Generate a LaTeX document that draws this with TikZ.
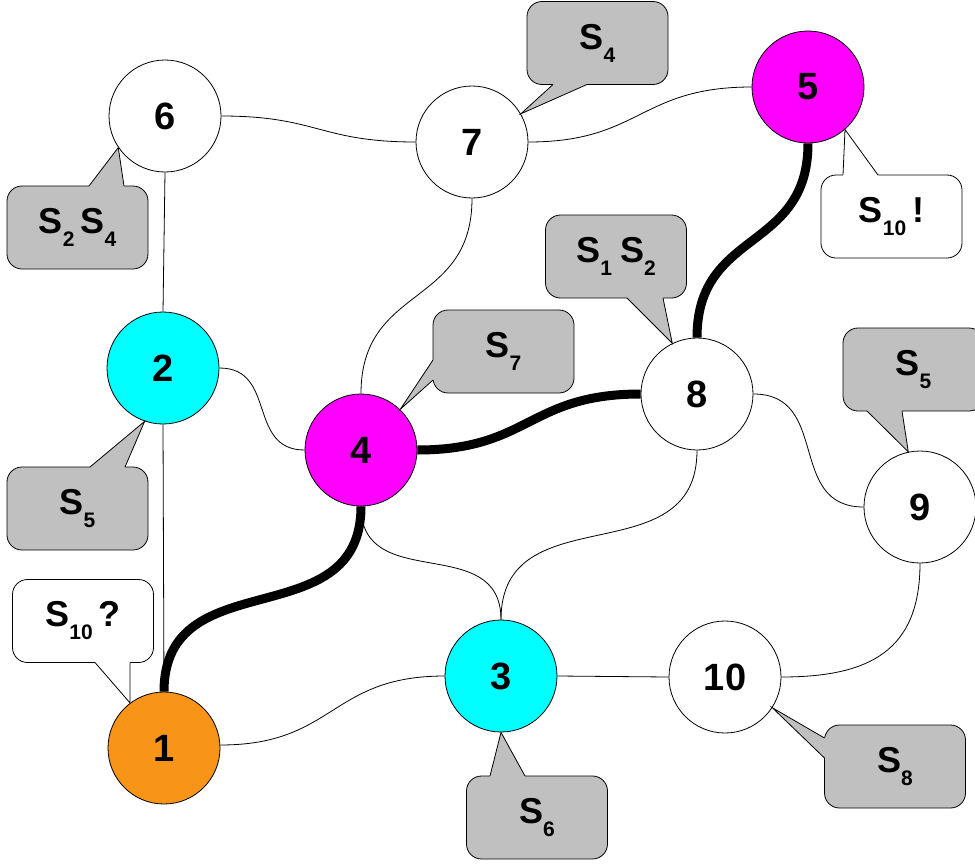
\documentclass[tikz,border=0pt]{standalone}
\usepackage{fontspec}
\setmainfont{Liberation Sans}
\usetikzlibrary{backgrounds}
\definecolor{callgray}{RGB}{192,192,192}
\definecolor{nodeorange}{RGB}{248,148,24}
\definecolor{nodecyan}{RGB}{0,255,255}
\definecolor{nodemagenta}{RGB}{255,0,255}
% lowered index after a capital S
\newcommand\lowsub[1]{\raisebox{-13pt}{\fontsize{21}{21}\selectfont #1}}

\begin{document}
\begin{tikzpicture}[x=1pt,y=-1pt,
  vertex/.style={circle,draw,line width=0.8pt,minimum size=112pt,inner sep=0pt,
    font=\fontsize{38}{38}\selectfont\bfseries},
  bubble/.style={draw,line width=0.8pt,rounded corners=15pt,minimum width=141pt,
    minimum height=83pt,inner sep=0pt,font=\fontsize{36}{36}\selectfont\bfseries},
  grey bubble/.style={bubble,fill=callgray},
  white bubble/.style={bubble,fill=white},
  link/.style={line width=0.8pt,looseness=1.25},
  route/.style={line width=9pt,looseness=1.25},
  tail/.style={line width=0.8pt,line join=miter}
]
\useasboundingbox (0,0) rectangle (975,865);
\clip (0,0) rectangle (975,865);

% graph vertices
\node[vertex,fill=nodeorange]  (n1)  at (164,748) {1};
\node[vertex,fill=nodecyan]    (n2)  at (163,368) {2};
\node[vertex,fill=nodecyan]    (n3)  at (501,676) {3};
\node[vertex,fill=nodemagenta] (n4)  at (361,450) {4};
\node[vertex,fill=nodemagenta] (n5)  at (808,87)  {5};
\node[vertex,fill=white]       (n6)  at (165,116) {6};
\node[vertex,fill=white]       (n7)  at (472,142) {7};
\node[vertex,fill=white]       (n8)  at (697,394) {8};
\node[vertex,fill=white]       (n9)  at (920,507) {9};
\node[vertex,fill=white]       (n10) at (725,677) {10};

% edges and the highlighted route
\begin{scope}[on background layer]
  \draw[link] (n6.east) to[out=0,in=180] (n7.west);
  \draw[link] (n7.east) to[out=0,in=180] (n5.west);
  \draw[link] (n6.south) -- (n2.north);
  \draw[link] (n2.south) -- (n1.north);
  \draw[link] (n2.east) to[out=0,in=180] (n4.west);
  \draw[link] (n7.south) to[out=270,in=90] (n4.north);
  \draw[link] (n4.south) to[out=270,in=90] (n3.north);
  \draw[link] (n8.south) to[out=270,in=90] (n3.north);
  \draw[link] (n8.east) to[out=0,in=180] (n9.west);
  \draw[link] (n9.south) to[out=270,in=0] (n10.east);
  \draw[link] (n3.east) -- (n10.west);
  \draw[link] ([yshift=3pt]n1.east) to[out=0,in=180] (n3.west);
  \draw[route] (n1.north) to[out=90,in=270] (n4.south);
  \draw[route] (n4.east) to[out=0,in=180] (n8.west);
  \draw[route] (n8.north) to[out=90,in=270] (n5.south);
\end{scope}

% speech bubbles
\node[grey bubble]  (c24) at (77.5,227.5) {S\lowsub{2}\hspace{6pt}S\lowsub{4}};
\node[grey bubble]  (c4)  at (597.5,43)   {S\lowsub{4}};
\node[white bubble] (c10x) at (891.5,216.5) {S\lowsub{10}\hspace{6pt}!};
\node[white bubble] (c10q) at (83,621)    {S\lowsub{10}\hspace{6pt}?};
\node[grey bubble]  (c6)  at (537,817.5)  {S\lowsub{6}};
\node[grey bubble]  (c8)  at (895,766.5)  {S\lowsub{8}};
\node[grey bubble]  (c12) at (616,256.5)  {S\lowsub{1}\hspace{8pt}S\lowsub{2}};
\node[grey bubble]  (c7)  at (503.5,351.5) {S\lowsub{7}};
\node[grey bubble]  (c5r) at (913.5,369.5) {S\lowsub{5}};
\node[grey bubble]  (c5l) at (77.5,508.5) {S\lowsub{5}};

% bubble tails pointing at the vertices
\fill[callgray] (89,189) -- (89,186) -- (n6.214) -- (124,186) -- (124,189) -- cycle;
\draw[tail] (89,186) -- (n6.214) -- (124,186);

\fill[callgray] (553,81.5) -- (553,84.5) -- (n7.30) -- (587,84.5) -- (587,81.5) -- cycle;
\draw[tail] (553,84.5) -- (n7.30) -- (587,84.5);

\fill[white] (843,178) -- (843,175) -- (n5.311) -- (878,175) -- (878,178) -- cycle;
\draw[tail] (843,175) -- (n5.311) -- (878,175);

\fill[white] (95,659.5) -- (95,662.5) -- (n1.127) -- (130,662.5) -- (130,659.5) -- cycle;
\draw[tail] (95,662.5) -- (n1.127) -- (130,662.5);

\fill[callgray] (490,779) -- (490,776) -- (n3.270) -- (525,776) -- (525,779) -- cycle;
\draw[tail] (490,776) -- (n3.270) -- (525,776);

\fill[callgray] (827.5,738) -- (824.5,738) -- (n10.327) -- (824.5,758) -- (827.5,758) -- cycle;
\draw[tail] (824.5,738) -- (n10.327) -- (824.5,758);

\fill[callgray] (627,295) -- (627,298) -- (n8.116) -- (663,298) -- (663,295) -- cycle;
\draw[tail] (627,298) -- (n8.116) -- (663,298);

\fill[callgray] (436,360) -- (433,360) -- (n4.46) -- (433,380) -- (436,380) -- cycle;
\draw[tail] (433,360) -- (n4.46) -- (433,380);

\fill[callgray] (867,408) -- (867,411) -- (n9.102) -- (902,411) -- (902,408) -- cycle;
\draw[tail] (867,411) -- (n9.102) -- (902,411);

\fill[callgray] (90,470) -- (90,467) -- (n2.251) -- (125,467) -- (125,470) -- cycle;
\draw[tail] (90,467) -- (n2.251) -- (125,467);
\end{tikzpicture}
\end{document}
